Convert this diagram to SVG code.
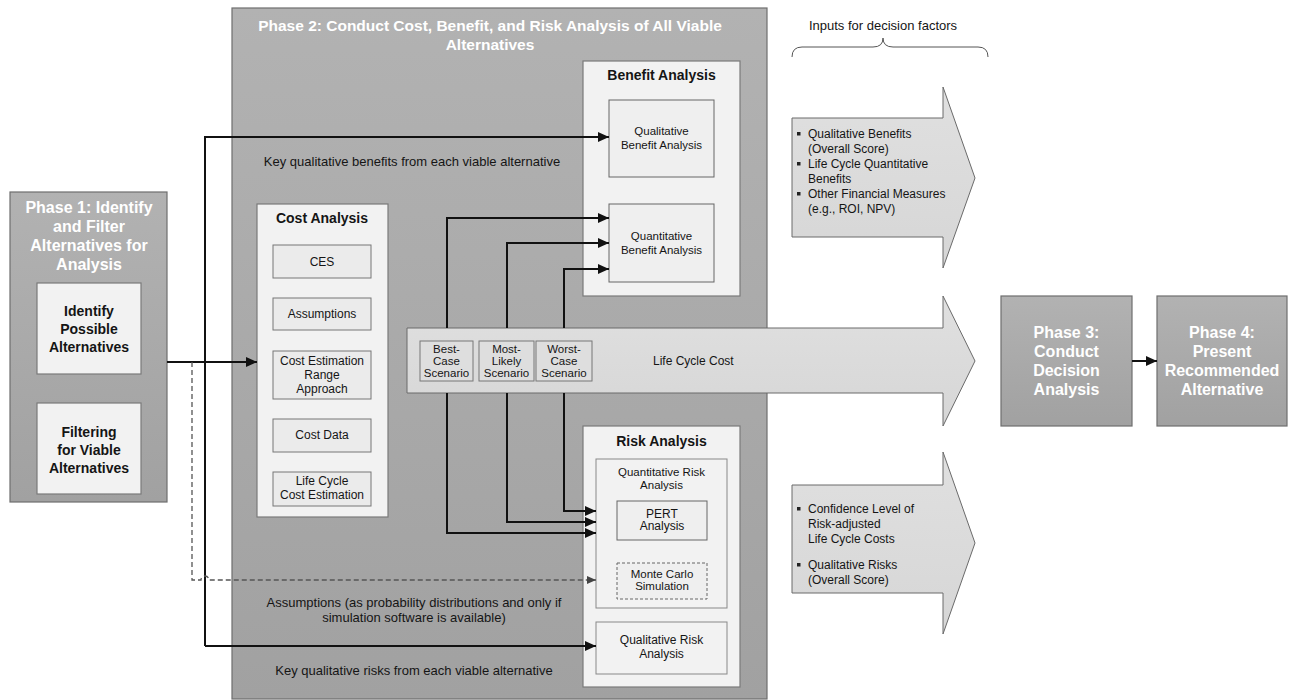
<svg xmlns="http://www.w3.org/2000/svg" width="1292" height="700" viewBox="0 0 1292 700">
<style>
text{font-family:"Liberation Sans",Arial,sans-serif;fill:#151515}
.ph{fill:url(#gPh);stroke:#6e6e6e;stroke-width:1.2}
.pt{fill:#fff;font-weight:bold;font-size:16px;text-anchor:middle}
.wb{fill:#f2f2f2;stroke:#7a7a7a;stroke-width:1.2}
.sb{fill:#efefef;stroke:#666;stroke-width:1}
.cb{fill:#ebebeb;stroke:#777;stroke-width:1}
.b14{font-weight:bold;font-size:14px;text-anchor:middle}
.t12{font-size:12px;text-anchor:middle}
.t11{font-size:11.5px;text-anchor:middle}
.t13{font-size:13px;text-anchor:middle}
.bl{font-size:12px}
.big{fill:url(#gArr);stroke:#6a6a6a;stroke-width:1}
.ln{fill:none;stroke:#111;stroke-width:2}
.dl{fill:none;stroke:#555;stroke-width:1.3;stroke-dasharray:5,3}
</style>
<defs>
<linearGradient id="gPh" x1="0" y1="0" x2="0" y2="1"><stop offset="0" stop-color="#b2b2b2"/><stop offset="1" stop-color="#a1a1a1"/></linearGradient>
<linearGradient id="gArr" x1="0" y1="0" x2="0" y2="1"><stop offset="0" stop-color="#e0e0e0"/><stop offset="1" stop-color="#d6d6d6"/></linearGradient>
<marker id="ah" markerUnits="userSpaceOnUse" markerWidth="12" markerHeight="10" refX="11" refY="5" orient="auto"><path d="M0,0 L11,5 L0,10 Z" fill="#111"/></marker>
<marker id="ahd" markerUnits="userSpaceOnUse" markerWidth="10" markerHeight="8" refX="9" refY="4" orient="auto"><path d="M0,0 L9,4 L0,8 Z" fill="#444"/></marker>
</defs>
<rect width="1292" height="700" fill="#fff"/>

<g id="phase1">
<rect class="ph" x="10" y="192" width="157" height="310"/>
<text class="pt" x="89" y="213">Phase 1: Identify</text>
<text class="pt" x="89" y="232">and Filter</text>
<text class="pt" x="89" y="251">Alternatives for</text>
<text class="pt" x="89" y="270">Analysis</text>
</g>
<g id="identify">
<rect class="wb" x="37" y="283" width="104" height="91"/>
<text class="b14" x="89" y="316">Identify</text>
<text class="b14" x="89" y="334">Possible</text>
<text class="b14" x="89" y="352">Alternatives</text>
</g>
<g id="filtering">
<rect class="wb" x="37" y="403" width="104" height="91"/>
<text class="b14" x="89" y="437">Filtering</text>
<text class="b14" x="89" y="455">for Viable</text>
<text class="b14" x="89" y="473">Alternatives</text>
</g>

<g id="phase2">
<rect class="ph" x="232" y="8" width="535" height="691"/>
<text class="pt" x="490" y="31" style="font-size:15.5px">Phase 2: Conduct Cost, Benefit, and Risk Analysis of All Viable</text>
<text class="pt" x="490" y="50" style="font-size:15.5px">Alternatives</text>
</g>

<g id="cost-analysis">
<rect class="wb" x="257" y="204" width="131" height="313"/>
<text class="b14" x="322" y="223">Cost Analysis</text>
<rect class="cb" x="273" y="245" width="98" height="33"/>
<text class="t12" x="322" y="266">CES</text>
<rect class="cb" x="273" y="298" width="98" height="32"/>
<text class="t12" x="322" y="318">Assumptions</text>
<rect class="cb" x="273" y="351" width="98" height="48"/>
<text class="t12" x="322" y="365">Cost Estimation</text>
<text class="t12" x="322" y="379">Range</text>
<text class="t12" x="322" y="393">Approach</text>
<rect class="cb" x="273" y="419" width="98" height="33"/>
<text class="t12" x="322" y="439">Cost Data</text>
<rect class="cb" x="273" y="472" width="98" height="34"/>
<text class="t12" x="322" y="485">Life Cycle</text>
<text class="t12" x="322" y="499">Cost Estimation</text>
</g>

<g id="benefit-analysis">
<rect class="wb" x="583" y="61" width="157" height="235"/>
<text class="b14" x="661.5" y="80">Benefit Analysis</text>
<rect class="sb" x="609" y="100" width="105" height="77"/>
<text class="t11" x="661.5" y="135">Qualitative</text>
<text class="t11" x="661.5" y="149">Benefit Analysis</text>
<rect class="sb" x="609" y="204" width="105" height="78"/>
<text class="t11" x="661.5" y="240">Quantitative</text>
<text class="t11" x="661.5" y="254">Benefit Analysis</text>
</g>

<g id="life-cycle-cost">
<path class="big" d="M407,328 L943,328 L943,296 L975,361 L943,426 L943,393 L407,393 Z"/>
<text x="653" y="365" style="font-size:12px">Life Cycle Cost</text>
</g>
<g id="best-case">
<rect class="cb" x="420" y="341" width="53" height="40" style="fill:#dedede"/>
<text class="t11" x="446.5" y="353">Best-</text>
<text class="t11" x="446.5" y="365">Case</text>
<text class="t11" x="446.5" y="377">Scenario</text>
</g>
<g id="most-likely">
<rect class="cb" x="479" y="341" width="55" height="40" style="fill:#dedede"/>
<text class="t11" x="506.5" y="353">Most-</text>
<text class="t11" x="506.5" y="365">Likely</text>
<text class="t11" x="506.5" y="377">Scenario</text>
</g>
<g id="worst-case">
<rect class="cb" x="536" y="341" width="56" height="40" style="fill:#dedede"/>
<text class="t11" x="564" y="353">Worst-</text>
<text class="t11" x="564" y="365">Case</text>
<text class="t11" x="564" y="377">Scenario</text>
</g>

<g id="risk-analysis">
<rect class="wb" x="583" y="426" width="157" height="261"/>
<text class="b14" x="661.5" y="446">Risk Analysis</text>
<rect class="sb" x="596" y="459" width="131" height="149" style="fill:#f2f2f2;stroke:#888"/>
<text class="t11" x="661.5" y="476">Quantitative Risk</text>
<text class="t11" x="661.5" y="489">Analysis</text>
<rect class="sb" x="617" y="501" width="90" height="39"/>
<text class="t12" x="662" y="518">PERT</text>
<text class="t12" x="662" y="530">Analysis</text>
<rect x="617" y="563" width="90" height="36" fill="#efefef" stroke="#666" stroke-width="1" stroke-dasharray="3,2"/>
<text class="t11" x="662" y="578">Monte Carlo</text>
<text class="t11" x="662" y="590">Simulation</text>
<rect class="sb" x="596" y="622" width="131" height="52" style="fill:#f2f2f2;stroke:#888"/>
<text class="t12" x="661.5" y="644">Qualitative Risk</text>
<text class="t12" x="661.5" y="658">Analysis</text>
</g>

<g id="labels">
<text class="t13" x="412" y="166">Key qualitative benefits from each viable alternative</text>
<text class="t13" x="414" y="607">Assumptions (as probability distributions and only if</text>
<text class="t13" x="414" y="622">simulation software is available)</text>
<text class="t13" x="414" y="675">Key qualitative risks from each viable alternative</text>
<text class="t13" x="883" y="30">Inputs for decision factors</text>
<path d="M792,57 Q792,47 802,47 L873,47 Q883,47 883,38 Q883,47 893,47 L978,47 Q988,47 988,57" fill="none" stroke="#555" stroke-width="1"/>
</g>

<g id="benefit-inputs">
<path class="big" d="M792,118 L943,118 L943,87 L975,178 L943,268 L943,237 L792,237 Z"/>
<rect x="797" y="132" width="3.5" height="3.5" fill="#222"/>
<rect x="797" y="162" width="3.5" height="3.5" fill="#222"/>
<rect x="797" y="192" width="3.5" height="3.5" fill="#222"/>
<text class="bl" x="808" y="138">Qualitative Benefits</text>
<text class="bl" x="808" y="153">(Overall Score)</text>
<text class="bl" x="808" y="168">Life Cycle Quantitative</text>
<text class="bl" x="808" y="183">Benefits</text>
<text class="bl" x="808" y="198">Other Financial Measures</text>
<text class="bl" x="808" y="213">(e.g., ROI, NPV)</text>
</g>

<g id="risk-inputs">
<path class="big" d="M792,485 L943,485 L943,452 L975,543 L943,634 L943,593 L792,593 Z"/>
<rect x="797" y="507" width="3.5" height="3.5" fill="#222"/>
<rect x="797" y="563" width="3.5" height="3.5" fill="#222"/>
<text class="bl" x="808" y="513">Confidence Level of</text>
<text class="bl" x="808" y="528">Risk-adjusted</text>
<text class="bl" x="808" y="543">Life Cycle Costs</text>
<text class="bl" x="808" y="569">Qualitative Risks</text>
<text class="bl" x="808" y="584">(Overall Score)</text>
</g>

<g id="phase3">
<rect class="ph" x="1001" y="296" width="131" height="130"/>
<text class="pt" x="1066.5" y="338">Phase 3:</text>
<text class="pt" x="1066.5" y="357">Conduct</text>
<text class="pt" x="1066.5" y="376">Decision</text>
<text class="pt" x="1066.5" y="395">Analysis</text>
</g>
<g id="phase4">
<rect class="ph" x="1157" y="296" width="130" height="130"/>
<text class="pt" x="1222" y="338">Phase 4:</text>
<text class="pt" x="1222" y="357">Present</text>
<text class="pt" x="1222" y="376">Recommended</text>
<text class="pt" x="1222" y="395">Alternative</text>
</g>

<g id="connectors">
<path class="ln" d="M167,362 L257,362" marker-end="url(#ah)"/>
<path class="ln" d="M205,646 L205,137 L609,137" marker-end="url(#ah)"/>
<path class="ln" d="M205,646 L596,646" marker-end="url(#ah)"/>
<path class="dl" d="M192,362 L192,580 L201,580 A4,4 0 0 1 209,580 L596,580" marker-end="url(#ahd)"/>
<path class="ln" d="M447,328 L447,218 L609,218" marker-end="url(#ah)"/>
<path class="ln" d="M507,328 L507,243 L609,243" marker-end="url(#ah)"/>
<path class="ln" d="M564,328 L564,269 L609,269" marker-end="url(#ah)"/>
<path class="ln" d="M447,393 L447,533 L596,533" marker-end="url(#ah)"/>
<path class="ln" d="M507,393 L507,522 L596,522" marker-end="url(#ah)"/>
<path class="ln" d="M564,393 L564,511 L596,511" marker-end="url(#ah)"/>
<path class="ln" d="M1132,361 L1157,361" marker-end="url(#ah)"/>
</g>
</svg>
